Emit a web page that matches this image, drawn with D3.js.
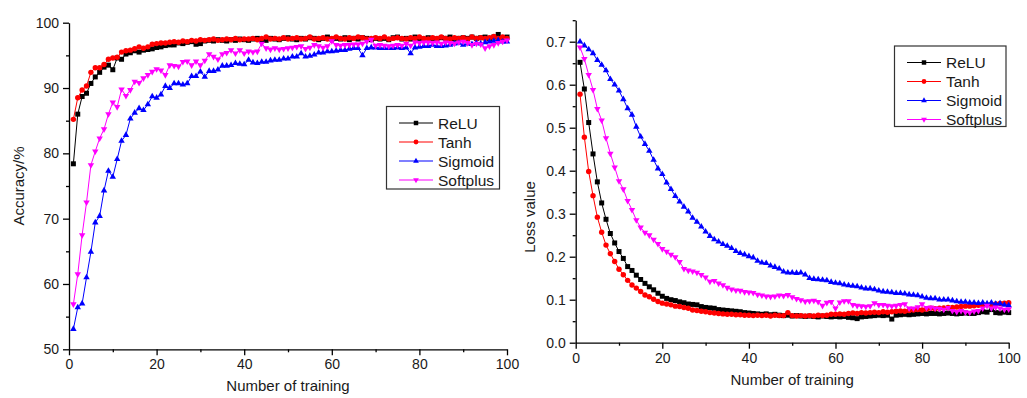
<!DOCTYPE html>
<html>
<head>
<meta charset="utf-8">
<script src="https://cdn.jsdelivr.net/npm/d3@7.9.0/dist/d3.min.js"></script>
<style>
  html, body { margin: 0; padding: 0; background: #fff; }
  svg { display: block; font-family: 'Liberation Sans', Arial, sans-serif; }
  .axis path, .axis line { stroke: #000; }
  .axis text { fill: #1a1a1a; font-size: 14px; }
</style>
</head>
<body>
<svg id="chart" width="1027" height="398"></svg>
<script>
// epochs 1..100
const epochs = d3.range(1, 101);
const seriesNames = ['ReLU', 'Tanh', 'Sigmoid', 'Softplus'];

const accReLU = [
  78.4, 86.0, 88.7, 89.2, 90.7, 91.7, 92.4, 93.2, 93.5, 92.8,
  94.6, 94.4, 95.2, 95.4, 95.7, 95.5, 95.8, 95.9, 96.0, 96.2,
  96.3, 96.5, 96.6, 96.6, 96.9, 96.8, 97.0, 97.1, 96.7, 96.8,
  97.2, 97.3, 97.2, 97.4, 97.3, 97.2, 97.4, 97.3, 97.5, 97.4,
  97.3, 97.5, 97.6, 97.4, 97.3, 97.6, 97.5, 97.4, 97.6, 97.7,
  97.5, 97.4, 97.6, 97.5, 97.7, 97.6, 97.4, 97.6, 97.8, 97.5,
  97.6, 97.5, 97.7, 97.4, 97.6, 97.5, 97.7, 97.6, 97.4, 97.6,
  97.5, 97.6, 97.4, 97.7, 97.8, 97.5, 97.6, 97.5, 97.8, 97.6,
  97.5, 97.7, 97.6, 97.5, 97.7, 97.6, 97.8, 97.5, 97.6, 97.7,
  97.6, 97.8, 97.6, 97.7, 97.8, 97.6, 97.8, 98.2, 97.7, 97.8
];
const accTanh = [
  85.2, 88.5, 89.7, 90.3, 92.4, 93.1, 93.1, 93.6, 94.4, 94.6,
  94.7, 95.5, 95.7, 95.8, 96.0, 96.3, 96.1, 96.3, 96.7, 96.8,
  96.9, 96.9, 97.0, 97.1, 97.0, 97.2, 97.1, 97.3, 97.2, 97.4,
  97.3, 97.4, 97.5, 97.3, 97.4, 97.5, 97.4, 97.6, 97.4, 97.5,
  97.5, 97.6, 97.4, 97.6, 97.8, 97.5, 97.6, 97.5, 97.7, 97.5,
  97.6, 97.7, 97.5, 97.6, 97.8, 97.5, 97.6, 97.7, 97.5, 97.6,
  97.8, 97.6, 97.5, 97.7, 97.6, 97.8, 97.7, 97.5, 97.6, 97.7,
  97.6, 97.8, 97.5, 97.6, 97.7, 97.6, 97.5, 97.7, 97.6, 97.8,
  97.6, 97.5, 97.7, 97.6, 97.8, 97.6, 97.5, 97.7, 97.6, 97.7,
  97.5, 97.8, 97.6, 97.7, 97.6, 97.7, 97.9, 97.6, 97.8, 97.6
];
const accSigmoid = [
  53.1, 56.4, 57.0, 61.0, 64.9, 69.4, 70.4, 74.3, 77.3, 76.4,
  79.1, 81.9, 82.8, 85.3, 86.2, 86.9, 86.6, 87.5, 88.7, 88.5,
  89.0, 90.3, 90.0, 90.7, 90.7, 90.5, 90.7, 91.8, 91.8, 92.5,
  91.7, 92.6, 92.6, 92.8, 93.4, 93.4, 93.5, 93.8, 93.7, 93.6,
  94.3, 93.9, 93.8, 94.0, 94.0, 94.2, 94.3, 94.3, 94.5, 94.5,
  94.8, 94.8, 95.3, 94.8, 94.9, 95.1, 95.4, 95.4, 95.6, 95.6,
  95.7, 95.8, 95.8, 96.0, 96.1, 96.1, 95.0, 96.1, 96.2, 96.2,
  96.1, 96.1, 96.1, 96.1, 96.2, 96.1, 96.2, 95.3, 96.2, 96.3,
  96.4, 96.4, 96.6, 96.4, 96.4, 96.5, 96.6, 96.8, 96.9, 96.6,
  96.8, 96.7, 96.9, 96.8, 97.0, 97.1, 97.2, 97.3, 97.1, 97.1
];
const accSoftplus = [
  56.9, 61.5, 67.5, 72.5, 78.2, 80.3, 82.3, 83.7, 86.0, 87.8,
  87.1, 89.8, 88.8, 89.7, 91.0, 90.8, 91.5, 92.0, 92.5, 92.9,
  92.7, 92.0, 93.5, 93.4, 93.3, 94.0, 94.1, 93.5, 94.1, 93.5,
  94.2, 95.2, 94.8, 94.4, 95.2, 95.4, 95.8, 95.3, 95.8, 95.3,
  95.6, 95.5, 95.6, 96.8, 96.1, 95.9, 96.1, 95.9, 96.0, 96.1,
  96.2, 96.3, 96.4, 96.0, 96.2, 96.6, 96.4, 96.2, 96.4, 97.2,
  96.6, 96.5, 96.6, 96.6, 96.7, 96.7, 96.8, 97.1, 97.4, 96.5,
  96.6, 96.5, 96.4, 96.5, 96.6, 96.5, 96.8, 96.5, 97.0, 96.9,
  97.0, 97.0, 96.9, 97.0, 96.8, 97.0, 96.9, 96.8, 97.0, 97.1,
  96.9, 96.6, 96.8, 96.7, 96.1, 96.4, 96.6, 96.9, 97.1, 97.3
];

const lossReLU = [
  0.652, 0.590, 0.512, 0.439, 0.374, 0.325, 0.287, 0.254, 0.232, 0.212,
  0.196, 0.177, 0.168, 0.157, 0.147, 0.138, 0.130, 0.123, 0.115, 0.108,
  0.103, 0.100, 0.098, 0.095, 0.093, 0.090, 0.089, 0.088, 0.084, 0.082,
  0.081, 0.080, 0.077, 0.076, 0.075, 0.074, 0.073, 0.072, 0.070, 0.069,
  0.068, 0.067, 0.066, 0.067, 0.065, 0.066, 0.064, 0.063, 0.064, 0.062,
  0.063, 0.062, 0.061, 0.062, 0.061, 0.060, 0.062, 0.061, 0.060, 0.061,
  0.060, 0.061, 0.059, 0.058, 0.056, 0.060, 0.061, 0.062, 0.063, 0.064,
  0.063, 0.064, 0.055, 0.064, 0.065, 0.066, 0.065, 0.066, 0.067, 0.068,
  0.067, 0.068, 0.068, 0.067, 0.068, 0.069, 0.068, 0.067, 0.068, 0.069,
  0.068, 0.068, 0.070, 0.072, 0.071, 0.077, 0.070, 0.069, 0.071, 0.070
];
const lossTanh = [
  0.578, 0.478, 0.398, 0.342, 0.292, 0.257, 0.227, 0.207, 0.189, 0.171,
  0.158, 0.145, 0.134, 0.127, 0.119, 0.111, 0.107, 0.101, 0.096, 0.092,
  0.090, 0.088, 0.085, 0.084, 0.082, 0.080, 0.076, 0.075, 0.073, 0.072,
  0.070, 0.069, 0.068, 0.067, 0.066, 0.066, 0.065, 0.065, 0.064, 0.064,
  0.063, 0.064, 0.063, 0.064, 0.062, 0.064, 0.063, 0.063, 0.070, 0.063,
  0.062, 0.063, 0.062, 0.063, 0.062, 0.064, 0.063, 0.064, 0.066, 0.066,
  0.067, 0.066, 0.068, 0.069, 0.068, 0.070, 0.069, 0.070, 0.071, 0.070,
  0.072, 0.071, 0.072, 0.073, 0.074, 0.073, 0.075, 0.076, 0.077, 0.076,
  0.078, 0.080, 0.079, 0.080, 0.081, 0.082, 0.082, 0.083, 0.084, 0.085,
  0.085, 0.086, 0.087, 0.088, 0.088, 0.089, 0.090, 0.091, 0.092, 0.093
];
const lossSigmoid = [
  0.700, 0.691, 0.682, 0.673, 0.657, 0.646, 0.633, 0.613, 0.600, 0.586,
  0.566, 0.545, 0.530, 0.502, 0.479, 0.462, 0.446, 0.425, 0.405, 0.392,
  0.372, 0.357, 0.341, 0.328, 0.316, 0.305, 0.290, 0.281, 0.270, 0.258,
  0.248, 0.240, 0.235, 0.229, 0.225, 0.220, 0.213, 0.208, 0.205, 0.201,
  0.198, 0.190, 0.186, 0.185, 0.179, 0.176, 0.172, 0.165, 0.163, 0.163,
  0.162, 0.163, 0.158, 0.150, 0.148, 0.147, 0.146, 0.145, 0.141, 0.139,
  0.138, 0.135, 0.133, 0.132, 0.131, 0.128, 0.126, 0.126, 0.124, 0.121,
  0.119, 0.118, 0.117, 0.115, 0.115, 0.114, 0.112, 0.111, 0.110, 0.107,
  0.104, 0.103, 0.103, 0.100, 0.100, 0.100, 0.098, 0.096, 0.095, 0.095,
  0.093, 0.093, 0.092, 0.093, 0.091, 0.093, 0.090, 0.091, 0.088, 0.087
];
const lossSoftplus = [
  0.687, 0.660, 0.623, 0.588, 0.544, 0.517, 0.476, 0.440, 0.408, 0.376,
  0.357, 0.330, 0.309, 0.285, 0.268, 0.256, 0.250, 0.240, 0.230, 0.218,
  0.212, 0.205, 0.199, 0.188, 0.172, 0.168, 0.166, 0.163, 0.158, 0.152,
  0.142, 0.144, 0.138, 0.134, 0.128, 0.124, 0.122, 0.121, 0.118, 0.117,
  0.116, 0.112, 0.110, 0.108, 0.107, 0.108, 0.110, 0.109, 0.111, 0.106,
  0.102, 0.099, 0.096, 0.097, 0.098, 0.095, 0.086, 0.093, 0.095, 0.080,
  0.094, 0.097, 0.097, 0.088, 0.086, 0.085, 0.084, 0.085, 0.092, 0.088,
  0.088, 0.086, 0.085, 0.086, 0.088, 0.090, 0.080, 0.080, 0.083, 0.090,
  0.081, 0.082, 0.080, 0.079, 0.077, 0.081, 0.074, 0.072, 0.074, 0.071,
  0.070, 0.073, 0.074, 0.080, 0.086, 0.080, 0.082, 0.080, 0.077, 0.078
];

const xTicks = [0, 20, 40, 60, 80, 100];
const xMinorTicks = [10, 30, 50, 70, 90];
const accTicks = [50, 60, 70, 80, 90, 100];
const accMinorTicks = [55, 65, 75, 85, 95];
const lossTicks = [0, 0.1, 0.2, 0.3, 0.4, 0.5, 0.6, 0.7];
const lossMinorTicks = [0.05, 0.15, 0.25, 0.35, 0.45, 0.55, 0.65, 0.75];

const styles = [
  { color: '#000000', symbol: d3.symbolSquare, size: 25, rotate: 0 },
  { color: '#ff0000', symbol: d3.symbolCircle, size: 23, rotate: 0 },
  { color: '#0000ff', symbol: d3.symbolTriangle, size: 18, rotate: 0 },
  { color: '#ff00ff', symbol: d3.symbolTriangle, size: 18, rotate: 180 },
];

const svg = d3.select('#chart');

drawPanel({
  left: 69, right: 507, top: 22.7, bottom: 349.3,
  yDomain: [50, 100], yTicks: accTicks, yMinor: accMinorTicks, yFormat: d3.format('d'),
  series: [accReLU, accTanh, accSigmoid, accSoftplus],
  yTitle: 'Accuracy/%', yTitleX: 24, yTitleY: 186,
  xTitleY: 42,
  legend: { x: 386.5, y: 106.5, w: 113, h: 82.5 },
});

drawPanel({
  left: 575.7, right: 1008.7, top: 20.2, bottom: 342.7,
  yDomain: [0, 0.75], yTicks: lossTicks, yMinor: lossMinorTicks, yFormat: d3.format('.1f'),
  series: [lossReLU, lossTanh, lossSigmoid, lossSoftplus],
  yTitle: 'Loss value', yTitleX: 535, yTitleY: 217,
  xTitleY: 42,
  legend: { x: 894.5, y: 46, w: 111.5, h: 80.5 },
});

function drawPanel(cfg) {
  const x = d3.scaleLinear().domain([0, 100]).range([cfg.left, cfg.right]);
  const y = d3.scaleLinear().domain(cfg.yDomain).range([cfg.bottom, cfg.top]);
  const g = svg.append('g');

  // minor ticks first, then major axes on top
  g.append('g').attr('class', 'axis')
    .attr('transform', `translate(0,${cfg.bottom})`)
    .call(d3.axisBottom(x).tickValues(xMinorTicks).tickSize(3).tickFormat(''))
    .call((a) => a.select('.domain').remove());
  g.append('g').attr('class', 'axis')
    .attr('transform', `translate(${cfg.left},0)`)
    .call(d3.axisLeft(y).tickValues(cfg.yMinor).tickSize(3).tickFormat(''))
    .call((a) => a.select('.domain').remove());

  g.append('g').attr('class', 'axis')
    .attr('transform', `translate(0,${cfg.bottom})`)
    .call(d3.axisBottom(x).tickValues(xTicks).tickSize(6).tickSizeOuter(0).tickPadding(4));
  g.append('g').attr('class', 'axis')
    .attr('transform', `translate(${cfg.left},0)`)
    .call(d3.axisLeft(y).tickValues(cfg.yTicks).tickSize(6).tickSizeOuter(0).tickPadding(4).tickFormat(cfg.yFormat));
  g.selectAll('.axis path, .axis line').attr('stroke-width', 1.3);

  g.append('text')
    .attr('x', (cfg.left + cfg.right) / 2)
    .attr('y', cfg.bottom + cfg.xTitleY)
    .attr('text-anchor', 'middle')
    .attr('font-size', 15)
    .attr('fill', '#1a1a1a')
    .text('Number of training');

  g.append('text')
    .attr('transform', `translate(${cfg.yTitleX},${cfg.yTitleY}) rotate(-90)`)
    .attr('text-anchor', 'middle')
    .attr('font-size', 15)
    .attr('fill', '#1a1a1a')
    .text(cfg.yTitle);

  const line = d3.line().x((d, i) => x(epochs[i])).y((d) => y(d));

  cfg.series.forEach((values, k) => {
    const st = styles[k];
    const s = g.append('g');
    s.append('path')
      .datum(values)
      .attr('fill', 'none')
      .attr('stroke', st.color)
      .attr('stroke-width', 1)
      .attr('d', line);
    s.selectAll('path.pt')
      .data(values)
      .join('path')
      .attr('class', 'pt')
      .attr('fill', st.color)
      .attr('d', d3.symbol(st.symbol, st.size))
      .attr('transform', (d, i) => `translate(${x(epochs[i])},${y(d)}) rotate(${st.rotate})`);
  });

  // legend
  const L = cfg.legend;
  const lg = g.append('g');
  lg.append('rect')
    .attr('x', L.x).attr('y', L.y).attr('width', L.w).attr('height', L.h)
    .attr('fill', '#fff').attr('stroke', '#333').attr('stroke-width', 1.2);
  seriesNames.forEach((name, k) => {
    const st = styles[k];
    const cy = L.y + 16.5 + k * 19;
    const x0 = L.x + 12.5;
    lg.append('line')
      .attr('x1', x0).attr('x2', x0 + 34).attr('y1', cy).attr('y2', cy)
      .attr('stroke', st.color).attr('stroke-width', 1.2);
    lg.append('path')
      .attr('fill', st.color)
      .attr('d', d3.symbol(st.symbol, st.size * 0.8)())
      .attr('transform', `translate(${x0 + 17},${cy}) rotate(${st.rotate})`);
    lg.append('text')
      .attr('x', x0 + 39).attr('y', cy)
      .attr('dy', '0.36em')
      .attr('font-size', 15.5)
      .attr('fill', '#1a1a1a')
      .text(name);
  });
}
</script>
</body>
</html>
